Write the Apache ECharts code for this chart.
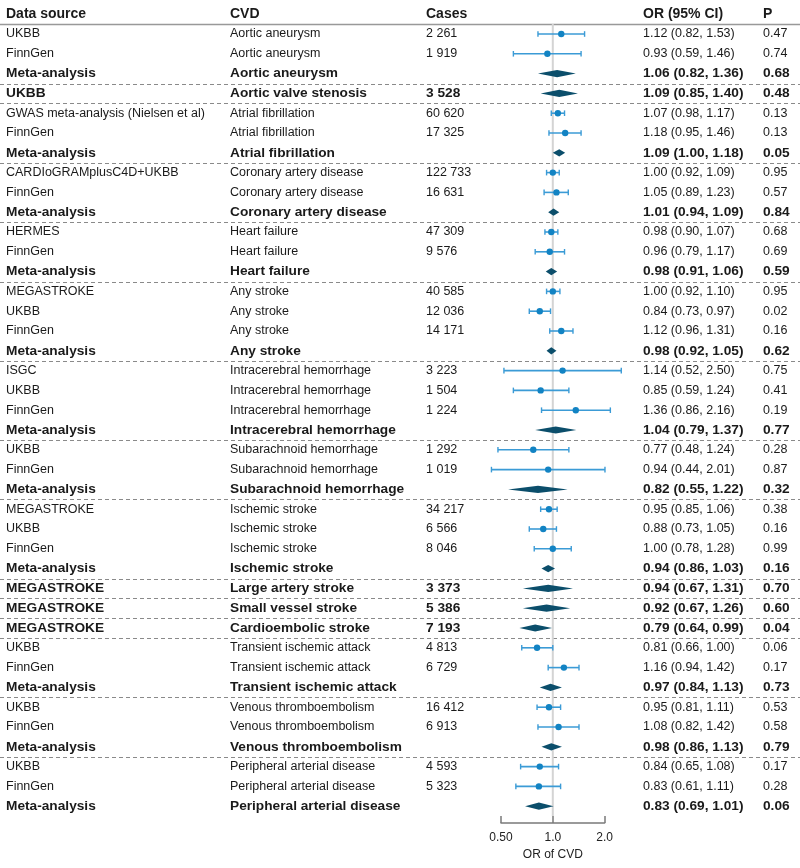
<!DOCTYPE html>
<html><head><meta charset="utf-8">
<script src="https://cdn.jsdelivr.net/npm/echarts@6/dist/echarts.min.js"></script>
<style>html,body{margin:0;padding:0;background:#fff}#c{width:800px;height:868px}</style>
</head><body><div id="c"></div>
<script>
const headers = ['Data source', 'CVD', 'Cases', 'OR (95% CI)', 'P'];
const sources = ['UKBB','FinnGen','Meta-analysis','UKBB','GWAS meta-analysis (Nielsen et al)','FinnGen','Meta-analysis','CARDIoGRAMplusC4D+UKBB','FinnGen','Meta-analysis','HERMES','FinnGen','Meta-analysis','MEGASTROKE','UKBB','FinnGen','Meta-analysis','ISGC','UKBB','FinnGen','Meta-analysis','UKBB','FinnGen','Meta-analysis','MEGASTROKE','UKBB','FinnGen','Meta-analysis','MEGASTROKE','MEGASTROKE','MEGASTROKE','UKBB','FinnGen','Meta-analysis','UKBB','FinnGen','Meta-analysis','UKBB','FinnGen','Meta-analysis'];
const cvds = ['Aortic aneurysm','Aortic aneurysm','Aortic aneurysm','Aortic valve stenosis','Atrial fibrillation','Atrial fibrillation','Atrial fibrillation','Coronary artery disease','Coronary artery disease','Coronary artery disease','Heart failure','Heart failure','Heart failure','Any stroke','Any stroke','Any stroke','Any stroke','Intracerebral hemorrhage','Intracerebral hemorrhage','Intracerebral hemorrhage','Intracerebral hemorrhage','Subarachnoid hemorrhage','Subarachnoid hemorrhage','Subarachnoid hemorrhage','Ischemic stroke','Ischemic stroke','Ischemic stroke','Ischemic stroke','Large artery stroke','Small vessel stroke','Cardioembolic stroke','Transient ischemic attack','Transient ischemic attack','Transient ischemic attack','Venous thromboembolism','Venous thromboembolism','Venous thromboembolism','Peripheral arterial disease','Peripheral arterial disease','Peripheral arterial disease'];
const cases = ['2 261','1 919','','3 528','60 620','17 325','','122 733','16 631','','47 309','9 576','','40 585','12 036','14 171','','3 223','1 504','1 224','','1 292','1 019','','34 217','6 566','8 046','','3 373','5 386','7 193','4 813','6 729','','16 412','6 913','','4 593','5 323',''];
const orVals = [1.12,0.93,1.06,1.09,1.07,1.18,1.09,1.00,1.05,1.01,0.98,0.96,0.98,1.00,0.84,1.12,0.98,1.14,0.85,1.36,1.04,0.77,0.94,0.82,0.95,0.88,1.00,0.94,0.94,0.92,0.79,0.81,1.16,0.97,0.95,1.08,0.98,0.84,0.83,0.83];
const ciLow = [0.82,0.59,0.82,0.85,0.98,0.95,1.00,0.92,0.89,0.94,0.90,0.79,0.91,0.92,0.73,0.96,0.92,0.52,0.59,0.86,0.79,0.48,0.44,0.55,0.85,0.73,0.78,0.86,0.67,0.67,0.64,0.66,0.94,0.84,0.81,0.82,0.86,0.65,0.61,0.69];
const ciHigh = [1.53,1.46,1.36,1.40,1.17,1.46,1.18,1.09,1.23,1.09,1.07,1.17,1.06,1.10,0.97,1.31,1.05,2.50,1.24,2.16,1.37,1.24,2.01,1.22,1.06,1.05,1.28,1.03,1.31,1.26,0.99,1.00,1.42,1.13,1.11,1.42,1.13,1.08,1.11,1.01];
const pVals = ['0.47','0.74','0.68','0.48','0.13','0.13','0.05','0.95','0.57','0.84','0.68','0.69','0.59','0.95','0.02','0.16','0.62','0.75','0.41','0.19','0.77','0.28','0.87','0.32','0.38','0.16','0.99','0.16','0.70','0.60','0.04','0.06','0.17','0.73','0.53','0.58','0.79','0.17','0.28','0.06'];
const isSummary = [0,0,1,1,0,0,1,0,0,1,0,0,1,0,0,0,1,0,0,0,1,0,0,1,0,0,0,1,1,1,1,0,0,1,0,0,1,0,0,1];
const separatorsAfter = [2,3,6,9,12,16,20,23,27,28,29,30,33,36];
const refValue = [1];
const xTicks = [0.5, 1, 2];
const xTickLabels = ['0.50', '1.0', '2.0'];
const xAxisTitle = 'OR of CVD';

const FONT = "'Liberation Sans', Arial, sans-serif";
const TXT = '#1a1a1a';
const colX = [6, 230, 426, 643, 763];
const DOT = '#1283c3', BAR = '#3b9bd6', DIA = '#0b4e6b';

function fmtOR(i) {
  return orVals[i].toFixed(2) + ' (' + ciLow[i].toFixed(2) + ', ' + ciHigh[i].toFixed(2) + ')';
}
const rowIdx = sources.map((_, i) => i);

const chart = echarts.init(document.getElementById('c'), null, {renderer: 'canvas'});
const option = {
  animation: false,
  backgroundColor: '#fff',
  grid: {left: 501, right: 195.4, top: 24.1, bottom: 51.9, containLabel: false, outerBoundsMode: 'none'},
  xAxis: {
    type: 'log', logBase: 2, min: 0.5, max: 2,
    position: 'bottom', offset: 7,
    axisLine: {show: true, lineStyle: {color: '#7a7a7a', width: 1.5}},
    axisTick: {show: true, inside: true, length: 7, lineStyle: {color: '#7a7a7a', width: 1.5}},
    splitLine: {show: false},
    axisLabel: {
      margin: 9, fontSize: 12, color: '#222', fontFamily: FONT,
      formatter: function (v) {
        let best = 0;
        xTicks.forEach((t, k) => { if (Math.abs(t - v) < Math.abs(xTicks[best] - v)) best = k; });
        return xTickLabels[best];
      }
    },
    name: xAxisTitle, nameLocation: 'middle', nameGap: 24,
    nameTextStyle: {fontSize: 12, color: '#222', fontFamily: FONT}
  },
  yAxis: {
    type: 'category', data: rowIdx, inverse: true, boundaryGap: true, show: false
  },
  graphic: [
    {type: 'line', shape: {x1: 0, y1: 24.5, x2: 800, y2: 24.5}, style: {stroke: '#999', lineWidth: 1.5}, z: 1}
  ].concat(headers.map((h, k) => ({
    type: 'text', x: colX[k], y: 14,
    style: {text: h, fill: TXT, font: 'bold 14px ' + FONT, verticalAlign: 'middle', align: 'left'}
  }))),
  series: [
    {
      type: 'custom', name: 'separators', clip: false, z: 1,
      data: separatorsAfter.map(i => [1, i]),
      encode: {x: 0, y: 1},
      renderItem: function (params, api) {
        const i = api.value(1);
        const y = api.coord([1, i])[1] + api.size([0, 1])[1] / 2;
        return {type: 'line', shape: {x1: 0, y1: Math.round(y) + 0.5, x2: 800, y2: Math.round(y) + 0.5},
          style: {stroke: '#8a8a8a', lineWidth: 1, lineDash: [4, 3]}};
      }
    },
    {
      type: 'custom', name: 'ref', clip: false, z: 2,
      data: refValue.map(v => [v, 0]),
      encode: {x: 0, y: 1},
      renderItem: function (params, api) {
        const cs = params.coordSys;
        const x = api.coord([api.value(0), 0])[0];
        return {type: 'line', shape: {x1: x, y1: cs.y, x2: x, y2: cs.y + cs.height},
          style: {stroke: '#d4d4d4', lineWidth: 2}};
      }
    },
    {
      type: 'custom', name: 'text', clip: false, z: 3,
      data: rowIdx.map(i => [1, i]),
      encode: {x: 0, y: 1},
      renderItem: function (params, api) {
        const i = api.value(1);
        const y = api.coord([1, i])[1];
        const bold = isSummary[i] === 1;
        const font = (bold ? 'bold 13.7px ' : '12.5px ') + FONT;
        const vals = [sources[i], cvds[i], cases[i], fmtOR(i), pVals[i]];
        return {
          type: 'group',
          children: vals.map((t, k) => ({
            type: 'text',
            style: {text: t, x: colX[k], y: y, fill: TXT, font: font, verticalAlign: 'middle', align: 'left'}
          }))
        };
      }
    },
    {
      type: 'custom', name: 'forest', clip: false, z: 4,
      data: rowIdx.map(i => [orVals[i], ciLow[i], ciHigh[i], i]),
      encode: {x: [0, 1, 2], y: 3},
      renderItem: function (params, api) {
        const i = api.value(3);
        const c = api.coord([api.value(0), i]);
        const l = api.coord([api.value(1), i]);
        const h = api.coord([api.value(2), i]);
        const y = c[1];
        if (isSummary[i] === 1) {
          const hh = 3.6;
          return {type: 'polygon', shape: {points: [[l[0], y], [c[0], y - hh], [h[0], y], [c[0], y + hh]]},
            style: {fill: DIA}};
        }
        const cap = 2.8;
        return {
          type: 'group',
          children: [
            {type: 'line', shape: {x1: l[0], y1: y, x2: h[0], y2: y}, style: {stroke: BAR, lineWidth: 1.6}},
            {type: 'line', shape: {x1: l[0], y1: y - cap, x2: l[0], y2: y + cap}, style: {stroke: BAR, lineWidth: 1.4}},
            {type: 'line', shape: {x1: h[0], y1: y - cap, x2: h[0], y2: y + cap}, style: {stroke: BAR, lineWidth: 1.4}},
            {type: 'circle', shape: {cx: c[0], cy: y, r: 3.2}, style: {fill: DOT}}
          ]
        };
      }
    }
  ]
};
chart.setOption(option);
</script>
</body></html>
